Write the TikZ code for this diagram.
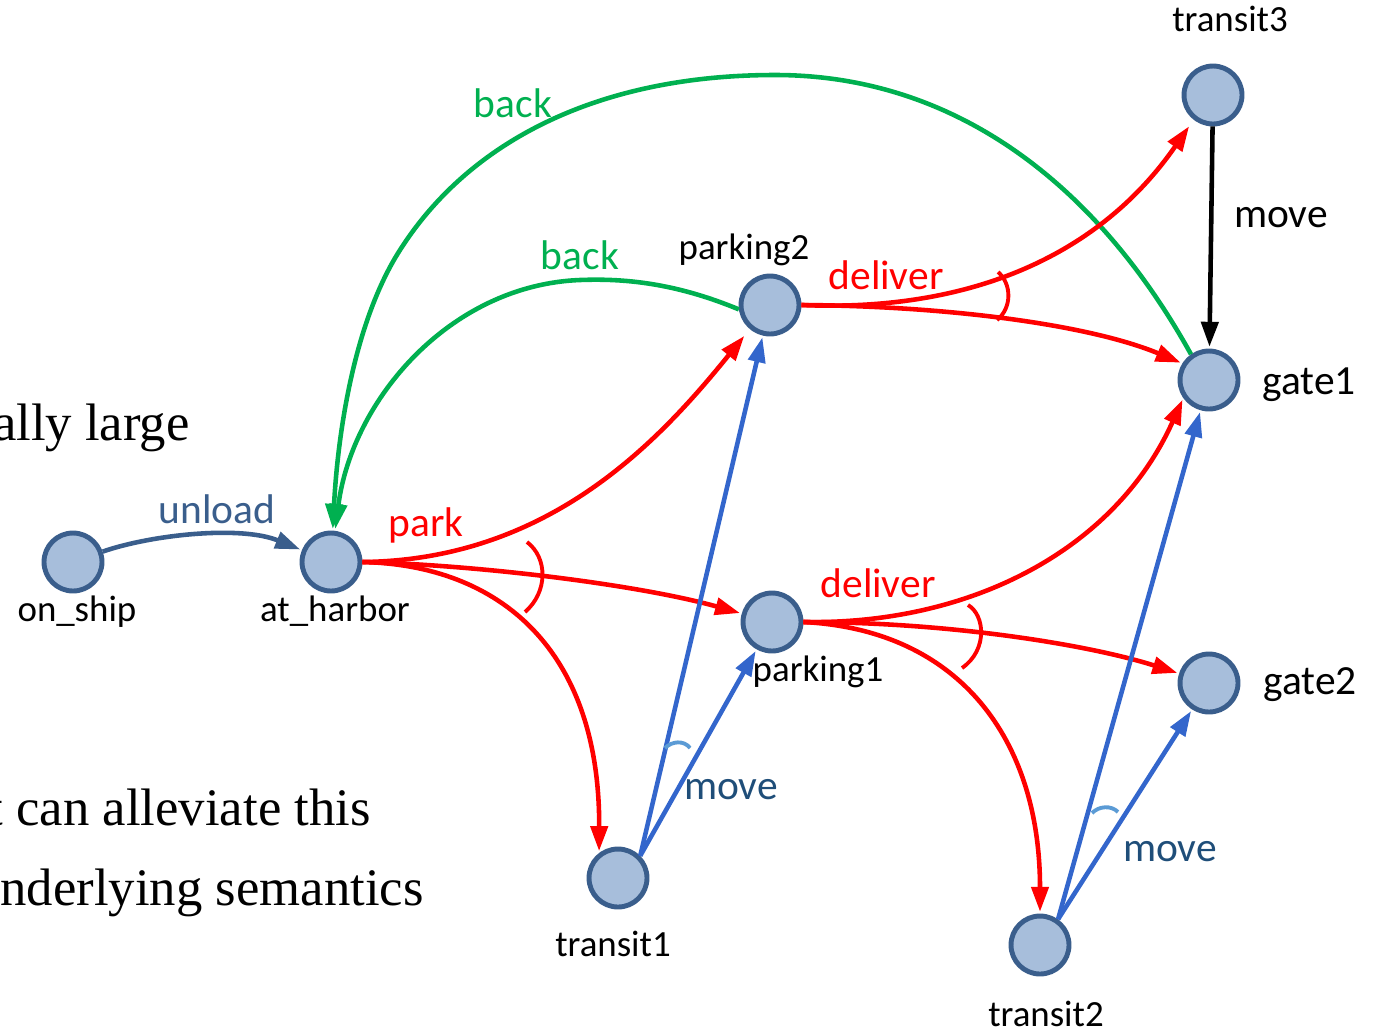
\documentclass[tikz,border=0pt]{standalone}
\usepackage{fontspec}
\setmainfont{Carlito}
\newfontfamily\slidefont{Liberation Serif}
\usetikzlibrary{arrows.meta}
\definecolor{nodefill}{RGB}{167,190,219}
\definecolor{nodeline}{RGB}{58,94,140}
\definecolor{parkred}{RGB}{255,0,0}
\definecolor{backgreen}{RGB}{0,176,80}
\definecolor{moveblue}{RGB}{51,102,204}
\definecolor{andblue}{RGB}{91,155,213}
\definecolor{movetext}{RGB}{31,78,121}
\def\statefont{\fontsize{21}{25}\selectfont}
\def\actfont{\fontsize{23.6}{28}\selectfont}
\tikzstyle{state}=[circle, draw=nodeline, fill=nodefill, line width=2.8pt, minimum size=1.16cm, inner sep=0pt]
\tikzstyle{state label}=[font=\statefont, anchor=base, inner sep=0pt]
\tikzstyle{action}=[font=\actfont, anchor=base, inner sep=0pt]
\tikzstyle{slide text}=[font=\slidefont\fontsize{30}{36}\selectfont, anchor=base east, inner sep=0pt]
\tikzstyle{trans}=[line width=2.6pt, -{Triangle[length=0.5cm, width=0.34cm]}, shorten >=1pt]
\tikzstyle{and arc}=[line width=2.2pt]

\begin{document}
\begin{tikzpicture}[x=0.02cm, y=-0.02cm]
		\path[use as bounding box] (0,0) rectangle (1381,1032);
		\clip (0,0) rectangle (1381,1032);

		% Slide text behind the graph
		\node[slide text] (txt-1) at (190,440) {ally large};
		\node[slide text] (txt-2) at (371,825) {t can alleviate this};
		\node[slide text] (txt-3) at (424,905) {nderlying semantics};

		% Draw the states
		\foreach \name / \x / \y in {onship/73/562, atharbor/331/562, parking2/770/305, parking1/772/622,
			transit1/618/878, transit2/1040/945, transit3/1213/95, gate1/1209/380, gate2/1209/683}
		\node[state] (\name) at (\x,\y) {};

		% Name the states
		\node[state label] (onship-l) at (77,621) {on\_ship};
		\node[state label] (atharbor-l) at (335,621) {at\_harbor};
		\node[state label] (parking2-l) at (744,259) {parking2};
		\node[state label] (parking1-l) at (818,681) {parking1};
		\node[state label] (transit1-l) at (613,956) {transit1};
		\node[state label] (transit2-l) at (1046,1026) {transit2};
		\node[state label] (transit3-l) at (1230,31) {transit3};
		\node[action] (gate1-l) at (1309,394) {gate1};
		\node[action] (gate2-l) at (1310,694) {gate2};

		% unload
		\draw[trans, nodeline] (onship) .. controls (150,535) and (240,525) .. (atharbor);

		% back
		\draw[trans, backgreen] (gate1.125) .. controls (1100,190) and (960,75) .. (775,75)
			.. controls (600,75) and (470,140) .. (400,250) .. controls (355,320) and (338,430) .. (atharbor);
		\draw[trans, backgreen] (parking2.188) .. controls (680,285) and (630,278) .. (580,280)
			.. controls (450,285) and (352,400) .. (atharbor);

		% park
		\draw[trans, parkred, shorten >=5pt] (atharbor.east) .. controls (550,560) and (660,440) .. (parking2.230);
		\draw[trans, parkred] (atharbor.east) .. controls (480,565) and (640,585) .. (parking1);
		\draw[trans, parkred] (atharbor.east) .. controls (500,565) and (600,650) .. (transit1.127);
		\draw[and arc, parkred] (527,542) .. controls (548,558) and (548,592) .. (525,612);

		% deliver from parking2
		\draw[trans, parkred, shorten >=4.5pt] (parking2.east) .. controls (960,312) and (1095,262) .. (transit3.232);
		\draw[trans, parkred] (parking2.east) .. controls (950,306) and (1090,325) .. (gate1.148);
		\draw[and arc, parkred] (998,272) .. controls (1012,284) and (1012,308) .. (997,320);

		% deliver from parking1
		\draw[trans, parkred] (parking1.east) .. controls (970,625) and (1115,550) .. (gate1.215);
		\draw[trans, parkred] (parking1.east) .. controls (950,622) and (1090,645) .. (gate2);
		\draw[trans, parkred] (parking1.east) .. controls (960,630) and (1040,740) .. (transit2.north);
		\draw[and arc, parkred] (968,605) .. controls (985,615) and (988,650) .. (962,668);

		% move
		\draw[trans, black] (transit3) -- (gate1);
		\draw[trans, moveblue] (transit1.45) -- (parking2);
		\draw[trans, moveblue] (transit1.45) -- (parking1);
		\draw[and arc, andblue] (665,748) .. controls (672,741) and (684,740) .. (690,748);
		\draw[trans, moveblue] (transit2.55) -- (gate1);
		\draw[trans, moveblue] (transit2.55) -- (gate2);
		\draw[and arc, andblue] (1092,813) .. controls (1099,806) and (1111,805) .. (1118,812);

		% Annotate the actions
		\node[action, text=nodeline] (unload-l) at (217,523) {unload};
		\node[action, text=backgreen] (back-1) at (513,117) {back};
		\node[action, text=backgreen] (back-2) at (580,269) {back};
		\node[action, text=parkred] (park-l) at (426,536) {park};
		\node[action, text=parkred] (deliver-1) at (886,289) {deliver};
		\node[action, text=parkred] (deliver-2) at (878,597) {deliver};
		\node[action] (move-1) at (1281,227) {move};
		\node[action, text=movetext] (move-2) at (731,799) {move};
		\node[action, text=movetext] (move-3) at (1170,861) {move};
\end{tikzpicture}
\end{document}
